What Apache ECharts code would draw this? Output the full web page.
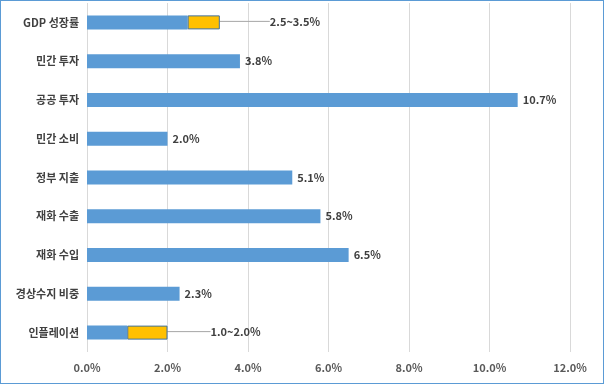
<!DOCTYPE html>
<html><head><meta charset="utf-8">
<script src="https://cdn.jsdelivr.net/npm/echarts@6/dist/echarts.min.js"></script>
<style>html,body{margin:0;padding:0;background:#fff}#c{width:604px;height:384px;position:relative}#f{position:absolute;left:0;top:0;width:604px;height:384px;box-sizing:border-box;border:1px solid #5b9bd5;pointer-events:none}</style>
</head><body><div style="position:relative"><div id="c"></div><div id="f"></div></div>
<script>
const categories = ['GDP 성장률','민간 투자','공공 투자','민간 소비','정부 지출','재화 수출','재화 수입','경상수지 비중','인플레이션'];
const baseValues = [2.5, 3.8, 10.7, 2.0, 5.1, 5.8, 6.5, 2.3, 1.0];
const rangeValues = [0.8, null, null, null, null, null, null, null, 1.0];
const rangeLabels = ['2.5~3.5%', '', '', '', '', '', '', '', '1.0~2.0%'];
const hasRange = rangeValues.map(v => v != null);
const xTicks = {min: 0, max: 12, interval: 2};

const chart = echarts.init(document.getElementById('c'), null, {renderer: 'canvas'});
const font = '"Noto Sans CJK KR", "Noto Sans", sans-serif';
chart.setOption({
  animation: false,
  grid: {left: 87, right: 34, top: 3, bottom: 32, containLabel: false},
  xAxis: {
    type: 'value', min: xTicks.min, max: xTicks.max, interval: xTicks.interval,
    axisLine: {show: false}, axisTick: {show: false},
    splitLine: {lineStyle: {color: '#d9d9d9', width: 1}},
    axisLabel: {formatter: v => v.toFixed(1) + '%', color: '#595959', fontSize: 11, fontWeight: 'bold', fontFamily: font, margin: 10}
  },
  yAxis: {
    type: 'category', data: categories, inverse: true,
    axisLine: {show: false}, axisTick: {show: false},
    axisLabel: {color: '#404040', fontSize: 11, fontWeight: 'bold', fontFamily: font, margin: 8}
  },
  series: [
    {
      type: 'bar', stack: 's', barWidth: 14,
      data: baseValues.map((v, i) => ({
        value: v,
        label: {show: !hasRange[i]}
      })),
      itemStyle: {color: '#5b9bd5'},
      label: {position: 'right', distance: 5, formatter: p => p.value.toFixed(1) + '%', color: '#404040', fontSize: 11, fontWeight: 'bold', fontFamily: font}
    },
    {
      type: 'bar', stack: 's', barWidth: 14,
      data: rangeValues.map((v, i) => ({value: v, label: {padding: [0, 0, 0, i === 0 ? 11 : 6]}})),
      itemStyle: {color: '#ffc000', borderColor: '#41719c', borderWidth: 1},
      label: {show: true, position: 'right', distance: 0,
        formatter: p => rangeLabels[p.dataIndex], color: '#404040', fontSize: 11, fontWeight: 'bold', fontFamily: font},
      labelLayout: p => ({dx: p.dataIndex === 0 ? 39 : 37, dy: -1}),
      labelLine: {show: true, lineStyle: {color: '#a6a6a6', width: 1}}
    }
  ]
});
</script></body></html>
